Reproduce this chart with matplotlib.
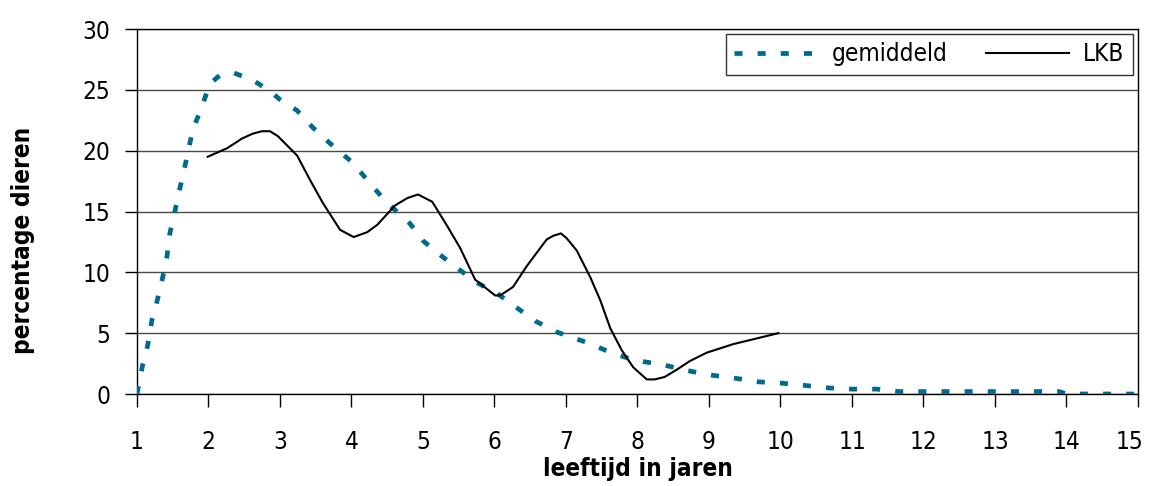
import matplotlib
matplotlib.use("Agg")
import matplotlib.pyplot as plt
from matplotlib.transforms import ScaledTranslation

plt.rcParams['font.family'] = ['DejaVu Sans']
plt.rcParams['font.stretch'] = 'condensed'

# gemiddeld (average)
gem_x = [1.0, 1.08, 1.15, 1.21, 1.28, 1.36, 1.42, 1.46, 1.53, 1.6, 1.67, 1.78, 1.9,
         2.02, 2.16, 2.35, 2.62, 2.86, 3.0, 3.24, 3.46, 3.7, 4.02, 4.26, 4.5, 4.82,
         5.0, 5.27, 5.49, 5.77, 6.03, 6.31, 6.57, 6.87, 7.01, 7.31, 7.59, 7.94,
         8.36, 8.64, 8.97, 9.36, 9.69, 10.0, 10.35, 10.67, 11.0, 11.35, 11.67,
         12.0, 12.5, 13.0, 13.5, 13.9, 14.0, 14.5, 15.0]
gem_y = [0.0, 2.4, 4.0, 6.1, 7.6, 9.6, 11.3, 13.2, 15.0, 16.9, 18.7, 21.7, 23.5,
         25.5, 26.2, 26.4, 25.8, 24.9, 24.2, 23.3, 21.9, 20.6, 19.0, 17.3, 15.7, 14.0,
         12.6, 11.3, 10.3, 9.1, 8.3, 7.1, 6.0, 5.1, 4.8, 4.2, 3.5, 2.8,
         2.4, 2.0, 1.6, 1.3, 1.0, 0.9, 0.7, 0.5, 0.4, 0.4, 0.2,
         0.2, 0.2, 0.2, 0.2, 0.2, 0.0, 0.0, 0.0]

# LKB
lkb_x = [1.99, 2.26, 2.47, 2.62, 2.75, 2.86, 2.97, 3.24, 3.42, 3.6, 3.84, 4.03,
         4.22, 4.36, 4.61, 4.78, 4.93, 5.13, 5.35, 5.52, 5.73, 6.01, 6.08, 6.26,
         6.45, 6.59, 6.73, 6.82, 6.93, 7.01, 7.15, 7.34, 7.48, 7.62, 7.78, 7.94,
         8.13, 8.24, 8.38, 8.55, 8.73, 8.97, 9.34, 9.97]
lkb_y = [19.5, 20.2, 21.0, 21.4, 21.6, 21.6, 21.2, 19.6, 17.6, 15.7, 13.5, 12.9,
         13.3, 13.9, 15.5, 16.1, 16.4, 15.8, 13.7, 12.0, 9.4, 8.1, 8.1, 8.8,
         10.5, 11.6, 12.7, 13.0, 13.2, 12.8, 11.8, 9.6, 7.7, 5.4, 3.6, 2.2,
         1.2, 1.2, 1.4, 2.0, 2.7, 3.4, 4.1, 5.0]

x_ticks = list(range(1, 16))
y_ticks = [0, 5, 10, 15, 20, 25, 30]

fig = plt.figure(figsize=(11.49, 4.86), dpi=100)
ax = fig.add_axes([0.1192, 0.1893, 0.8712, 0.751])

for yt in y_ticks:
    ax.axhline(yt, color='#4a4a4a', lw=1.0, zorder=1)

ax.plot(gem_x, gem_y, color='#006A8E', lw=3.4, dashes=(1.7, 3.2),
        dash_capstyle='butt', label='gemiddeld', zorder=3)
ax.plot(lkb_x, lkb_y, color='black', lw=1.5, label='LKB', zorder=4)

ax.set_xlim(1, 15)
ax.set_ylim(0, 30)
ax.set_xticks(x_ticks)
ax.set_yticks(y_ticks)
ax.tick_params(axis='both', direction='out', length=9, width=1, labelsize=17.5,
               colors='black')
ax.tick_params(axis='x', pad=17)
ax.tick_params(axis='y', pad=10)
for s in ax.spines.values():
    s.set_color('black')
    s.set_linewidth(1.0)

# keep the last x label inside the picture, as in the original
last = ax.get_xticklabels()[-1]
last.set_horizontalalignment('right')
last.set_transform(last.get_transform() + ScaledTranslation(5 / 100, 0, fig.dpi_scale_trans))

ax.set_xlabel('leeftijd in jaren', fontsize=17.5, fontweight='bold', labelpad=2)
ax.set_ylabel('percentage dieren', fontsize=17.5, fontweight='bold')
ax.yaxis.set_label_coords(-0.102, 0.42)

leg = ax.legend(loc='upper right', ncol=2, fontsize=17.5, frameon=True, fancybox=False,
                edgecolor='black', handlelength=3.4, handletextpad=0.6,
                columnspacing=1.6, borderpad=0.35, borderaxespad=0.2)
leg.get_frame().set_linewidth(1.0)

fig.savefig('out.png', dpi=100)
